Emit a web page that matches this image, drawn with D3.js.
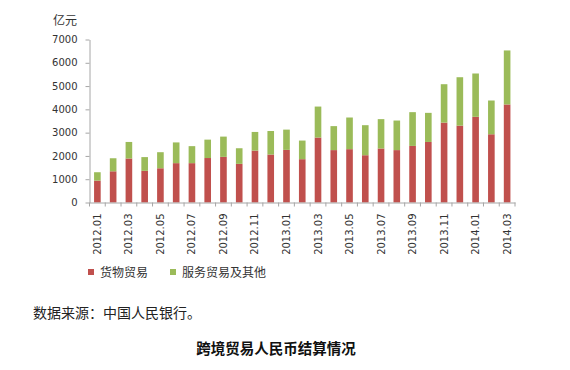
<!DOCTYPE html>
<html>
<head>
<meta charset="utf-8">
<script src="https://cdn.jsdelivr.net/npm/d3@7"></script>
<style>
  body { margin: 0; background: #fff; }
  svg { display: block; }
  .axis text { font-family: "DejaVu Sans", Verdana, sans-serif; font-size: 10px; fill: #333; }
  .axis path, .axis line { stroke: #a6a6a6; }
  .cjk { font-family: "Noto Sans CJK SC", sans-serif; }
</style>
</head>
<body>
<svg id="chart" width="570" height="370"></svg>
<script>
// months 2012.01 - 2014.03
var months = ['2012.01','2012.02','2012.03','2012.04','2012.05','2012.06','2012.07','2012.08','2012.09',
  '2012.10','2012.11','2012.12','2013.01','2013.02','2013.03','2013.04','2013.05','2013.06',
  '2013.07','2013.08','2013.09','2013.10','2013.11','2013.12','2014.01','2014.02','2014.03'];

// 货物贸易 (亿元)
var goods = [940, 1340, 1890, 1360, 1470, 1690, 1690, 1910, 1960,
  1660, 2230, 2060, 2260, 1860, 2790, 2250, 2290, 2030,
  2320, 2250, 2430, 2600, 3430, 3300, 3680, 2930, 4210];

// 服务贸易及其他 (亿元)
var services = [360, 560, 710, 590, 690, 890, 730, 790, 870,
  670, 800, 1010, 870, 800, 1330, 1030, 1360, 1290,
  1260, 1270, 1450, 1250, 1650, 2080, 1860, 1450, 2320];

var yTicks = [0, 1000, 2000, 3000, 4000, 5000, 6000, 7000];
var seriesNames = ['货物贸易', '服务贸易及其他'];
var colors = ['#c0504d', '#9bbb59'];

var svg = d3.select('#chart');

var plotLeft = 89.5, plotRight = 515, plotTop = 39.5, plotBottom = 202.5;

var x = d3.scaleBand()
  .domain(months)
  .range([plotLeft, plotRight])
  .paddingInner(0.58)
  .paddingOuter(0.29);

var y = d3.scaleLinear()
  .domain([0, 7000])
  .range([plotBottom, plotTop]);

var rows = months.map(function(m, i) {
  return { month: m, goods: goods[i], services: services[i] };
});

var layers = d3.stack().keys(['goods', 'services'])(rows);

svg.selectAll('g.layer')
  .data(layers)
  .enter()
  .append('g')
  .attr('class', 'layer')
  .attr('fill', function(d, i) { return colors[i]; })
  .selectAll('rect')
  .data(function(d) { return d; })
  .enter()
  .append('rect')
  .attr('x', function(d) { return x(d.data.month); })
  .attr('width', x.bandwidth())
  .attr('y', function(d) { return y(d[1]); })
  .attr('height', function(d) { return y(d[0]) - y(d[1]); });

// y axis
svg.append('g')
  .attr('class', 'axis')
  .attr('transform', 'translate(' + plotLeft + ',0)')
  .call(d3.axisLeft(y).tickValues(yTicks).tickFormat(d3.format('d'))
    .tickSize(4).tickPadding(8).tickSizeOuter(0));

// x axis: labels every other month, rotated
var xAxis = svg.append('g')
  .attr('class', 'axis')
  .attr('transform', 'translate(0,' + plotBottom + ')')
  .call(d3.axisBottom(x).tickSize(0).tickSizeOuter(0)
    .tickFormat(function(d, i) { return i % 2 === 0 ? d : ''; }));

xAxis.selectAll('text')
  .attr('transform', 'rotate(-90)')
  .attr('text-anchor', 'end')
  .attr('x', -11)
  .attr('y', 0)
  .attr('dy', '0.35em');

// category boundary ticks
var bounds = d3.range(months.length + 1);
var stepW = (plotRight - plotLeft) / months.length;
xAxis.selectAll('line.bound')
  .data(bounds)
  .enter()
  .append('line')
  .attr('class', 'bound')
  .attr('x1', function(i) { return plotLeft + i * stepW; })
  .attr('x2', function(i) { return plotLeft + i * stepW; })
  .attr('y1', 0)
  .attr('y2', 4);

// unit label
svg.append('text')
  .attr('class', 'cjk')
  .attr('x', 53)
  .attr('y', 25)
  .attr('font-size', 12)
  .attr('fill', '#333')
  .text('亿元');

// legend
var legend = svg.append('g').attr('class', 'cjk');
var legendX = [88, 170];
seriesNames.forEach(function(name, i) {
  legend.append('rect')
    .attr('x', legendX[i])
    .attr('y', 269)
    .attr('width', 6)
    .attr('height', 6)
    .attr('fill', colors[i]);
  legend.append('text')
    .attr('x', legendX[i] + 12)
    .attr('y', 277)
    .attr('font-size', 12)
    .attr('fill', '#333')
    .text(name);
});

// source note
svg.append('text')
  .attr('class', 'cjk')
  .attr('x', 33)
  .attr('y', 318)
  .attr('font-size', 14)
  .attr('fill', '#222')
  .text('数据来源：中国人民银行。');

// title
svg.append('text')
  .attr('class', 'cjk')
  .attr('x', 276)
  .attr('y', 354)
  .attr('text-anchor', 'middle')
  .attr('font-size', 14.5)
  .attr('font-weight', 'bold')
  .attr('fill', '#111')
  .text('跨境贸易人民币结算情况');
</script>
</body>
</html>
